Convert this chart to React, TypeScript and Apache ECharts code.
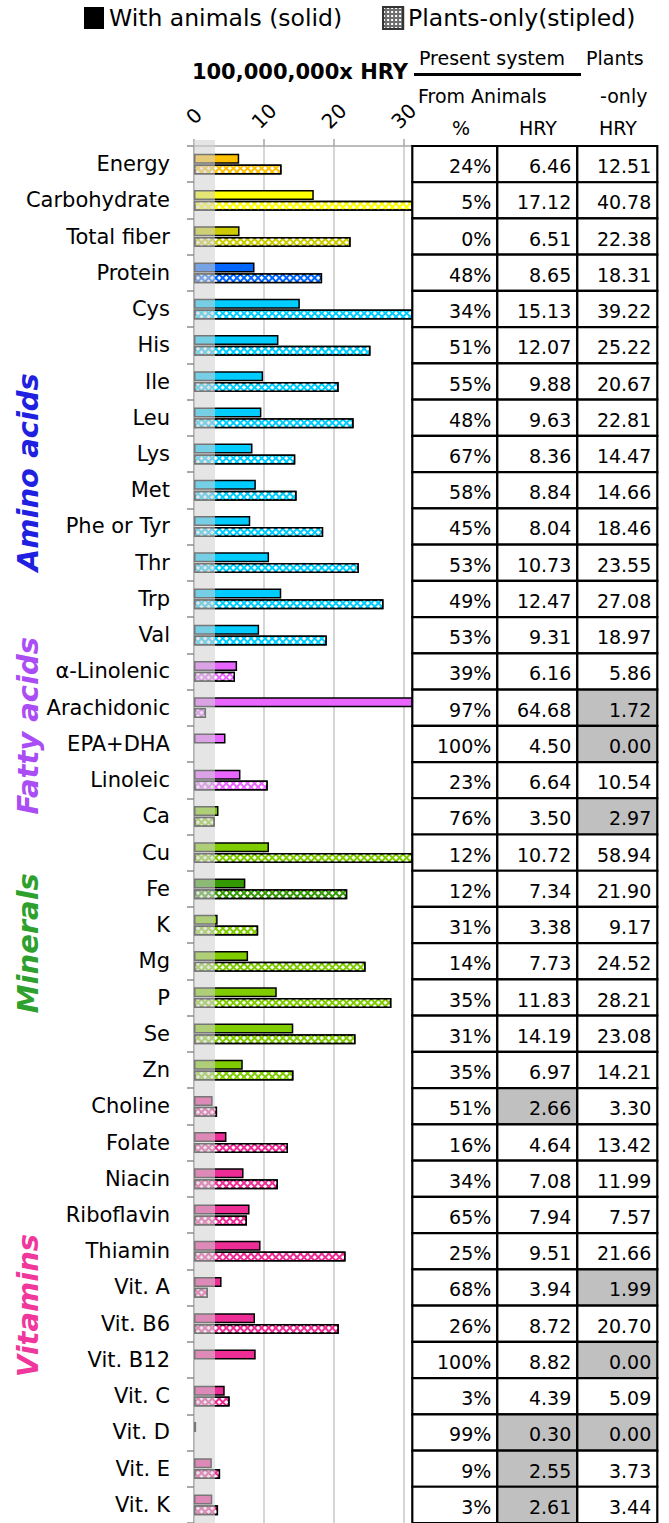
import React, { useEffect, useRef } from "react";
import * as echarts from "echarts";

const categories = [
  "Energy", "Carbohydrate", "Total fiber", "Protein",
  "Cys", "His", "Ile", "Leu", "Lys", "Met", "Phe or Tyr", "Thr", "Trp", "Val",
  "α-Linolenic", "Arachidonic", "EPA+DHA", "Linoleic",
  "Ca", "Cu", "Fe", "K", "Mg", "P", "Se", "Zn",
  "Choline", "Folate", "Niacin", "Riboflavin", "Thiamin", "Vit. A", "Vit. B6", "Vit. B12",
  "Vit. C", "Vit. D", "Vit. E", "Vit. K",
];
const fromAnimalsPct = [
  24, 5, 0, 48,
  34, 51, 55, 48, 67, 58, 45, 53, 49, 53,
  39, 97, 100, 23,
  76, 12, 12, 31, 14, 35, 31, 35,
  51, 16, 34, 65, 25, 68, 26, 100, 3, 99, 9, 3,
];
const hryPresent = [
  6.46, 17.12, 6.51, 8.65,
  15.13, 12.07, 9.88, 9.63, 8.36, 8.84, 8.04, 10.73, 12.47, 9.31,
  6.16, 64.68, 4.5, 6.64,
  3.5, 10.72, 7.34, 3.38, 7.73, 11.83, 14.19, 6.97,
  2.66, 4.64, 7.08, 7.94, 9.51, 3.94, 8.72, 8.82, 4.39, 0.3, 2.55, 2.61,
];
const hryPlantsOnly = [
  12.51, 40.78, 22.38, 18.31,
  39.22, 25.22, 20.67, 22.81, 14.47, 14.66, 18.46, 23.55, 27.08, 18.97,
  5.86, 1.72, 0.0, 10.54,
  2.97, 58.94, 21.9, 9.17, 24.52, 28.21, 23.08, 14.21,
  3.3, 13.42, 11.99, 7.57, 21.66, 1.99, 20.7, 0.0, 5.09, 0.0, 3.73, 3.44,
];
const xTicks = [0, 10, 20, 30];
const xMax = 31.2;
const lowThreshold = 3;
const groupNames = ["Amino acids", "Fatty acids", "Minerals", "Vitamins"];
const groupFirstRow = [4, 14, 18, 26];
const groupLastRow = [13, 17, 25, 37];
const legendNames = ["With animals (solid)", "Plants-only(stipled)"];

// styles
const FONT = "'DejaVu Sans', sans-serif";
const rowColors = [
  "#FFC000", "#FFFF00", "#CCCC00", "#0066FF",
  ...Array(10).fill("#00CCFF"),
  ...Array(4).fill("#E866FF"),
  "#7FCC00", "#7FCC00", "#339900", "#7FCC00", "#7FCC00", "#7FCC00", "#7FCC00", "#7FCC00",
  ...Array(12).fill("#EE2C96"),
];
const groupColors = ["#2020E0", "#AA4DF5", "#2EA02E", "#F0389C"];

export default function App() {
  const ref = useRef<HTMLDivElement>(null);
  useEffect(() => {
    const chart = echarts.init(ref.current!, null, { renderer: "svg" });
    const stippleDecal = {
      symbol: "rect",
      symbolSize: 1,
      color: "#ffffff",
      dashArrayX: [3, 1.6],
      dashArrayY: [3, 1.6],
      rotation: Math.PI / 4,
    };
    const colEdges = [0, 85, 165, 245];
    const barBorder = (v: number) => ({ borderColor: "#000", borderWidth: v > 0 ? 1.5 : 0 });

    chart.setOption({
      animation: false,
      backgroundColor: "#ffffff",
      textStyle: { fontFamily: FONT },
      legend: {
        left: 84,
        top: 6,
        padding: 0,
        icon: "rect",
        itemWidth: 20,
        itemHeight: 22,
        itemGap: 40,
        textStyle: { fontSize: 23.5, color: "#000", fontFamily: FONT },
        data: legendNames,
      },
      grid: [
        { left: 194, top: 146, width: 218.3, height: 1379.4 },
        { left: 0, top: 0, width: 1, height: 1, show: false },
      ],
      xAxis: [
        {
          type: "value",
          position: "top",
          min: 0,
          max: xMax,
          interval: 10,
          axisLine: { show: true, lineStyle: { color: "#A6A6A6", width: 1.5 } },
          axisTick: { show: true, length: 7, lineStyle: { color: "#A6A6A6", width: 1.5 } },
          splitLine: { show: true, lineStyle: { color: "#C8C8C8", width: 1.5 } },
          axisLabel: {
            rotate: -45,
            margin: 30,
            align: "center",
            verticalAlign: "middle",
            fontSize: 20,
            color: "#000",
            fontFamily: FONT,
            showMaxLabel: false,
            formatter: (v: number) => (xTicks.includes(v) ? String(v) : ""),
          },
        },
        { type: "value", gridIndex: 1, show: false },
      ],
      yAxis: [
        {
          type: "category",
          data: categories,
          inverse: true,
          axisLine: { show: true, lineStyle: { color: "#A6A6A6", width: 1.5 } },
          axisTick: { show: true, length: 7, lineStyle: { color: "#8C8C8C", width: 1.5 } },
          axisLabel: { fontSize: 21, color: "#000", margin: 24, fontFamily: FONT },
          splitLine: { show: false },
        },
        { type: "category", gridIndex: 1, show: false, data: ["x"] },
      ],
      graphic: [
        { type: "text", x: 408, y: 72, style: { text: "100,000,000x HRY", font: `bold 21px ${FONT}`, fill: "#000", align: "right", verticalAlign: "middle" } },
        { type: "text", x: 419, y: 58, style: { text: "Present system", font: `19px ${FONT}`, fill: "#000", align: "left", verticalAlign: "middle" } },
        { type: "line", shape: { x1: 414, y1: 74.5, x2: 581, y2: 74.5 }, style: { stroke: "#000", lineWidth: 3 } },
        { type: "text", x: 586, y: 58, style: { text: "Plants", font: `19px ${FONT}`, fill: "#000", align: "left", verticalAlign: "middle" } },
        { type: "text", x: 418, y: 96, style: { text: "From Animals", font: `19px ${FONT}`, fill: "#000", align: "left", verticalAlign: "middle" } },
        { type: "text", x: 600, y: 96, style: { text: "-only", font: `19px ${FONT}`, fill: "#000", align: "left", verticalAlign: "middle" } },
        { type: "text", x: 461, y: 128, style: { text: "%", font: `19px ${FONT}`, fill: "#000", align: "center", verticalAlign: "middle" } },
        { type: "text", x: 538, y: 128, style: { text: "HRY", font: `19px ${FONT}`, fill: "#000", align: "center", verticalAlign: "middle" } },
        { type: "text", x: 618, y: 128, style: { text: "HRY", font: `19px ${FONT}`, fill: "#000", align: "center", verticalAlign: "middle" } },
      ],
      series: [
        {
          name: "solid",
          type: "bar",
          barWidth: 10,
          barGap: "8%",
          z: 2,
          silent: true,
          data: hryPresent.map((v, i) => ({ value: v, itemStyle: { color: rowColors[i], ...barBorder(v) } })),
        },
        {
          name: "stipled",
          type: "bar",
          barWidth: 10,
          barGap: "8%",
          z: 2,
          silent: true,
          data: hryPlantsOnly.map((v, i) => ({
            value: v,
            itemStyle: { color: rowColors[i], decal: stippleDecal, ...barBorder(v) },
          })),
        },
        {
          name: "band",
          type: "custom",
          z: 3,
          silent: true,
          clip: false,
          encode: { x: 0, y: 1 },
          data: [[lowThreshold, 0]],
          renderItem: (params: any, api: any) => {
            const cs = params.coordSys;
            const x0 = api.coord([0, 0])[0];
            const x1 = api.coord([api.value(0), 0])[0];
            return {
              type: "rect",
              shape: { x: x0, y: cs.y - 6, width: x1 - x0, height: cs.height + 6 },
              style: { fill: "rgba(210,210,210,0.57)" },
            };
          },
        },
        {
          name: "table",
          type: "custom",
          z: 4,
          silent: true,
          clip: false,
          encode: { x: 0, y: 1 },
          data: categories.map((_, i) => [0, i]),
          renderItem: (params: any, api: any) => {
            const idx = api.value(1);
            const cs = params.coordSys;
            const yc = api.coord([0, idx])[1];
            const h = api.size([0, 1])[1];
            const left = cs.x + cs.width;
            const top = yc - h / 2;
            const texts = [
              `${fromAnimalsPct[idx]}%`,
              hryPresent[idx].toFixed(2),
              hryPlantsOnly[idx].toFixed(2),
            ];
            const grey = [false, hryPresent[idx] < lowThreshold, hryPlantsOnly[idx] < lowThreshold];
            const children: any[] = [];
            for (let c = 0; c < 3; c++) {
              const xL = left + colEdges[c];
              const xR = left + colEdges[c + 1];
              children.push({
                type: "rect",
                shape: { x: xL, y: top, width: xR - xL, height: h },
                style: { fill: grey[c] ? "#C0C0C0" : "#ffffff", stroke: "#000", lineWidth: 2.2 },
              });
              children.push({
                type: "text",
                x: xR - 6,
                y: yc + 2,
                style: {
                  text: texts[c],
                  font: `19px ${FONT}`,
                  fill: "#000",
                  align: "right",
                  verticalAlign: "middle",
                },
              });
            }
            return { type: "group", children };
          },
        },
        {
          name: "groups",
          type: "custom",
          z: 4,
          silent: true,
          clip: false,
          encode: { x: 0, y: 1 },
          data: groupNames.map((_, g) => [0, groupFirstRow[g], groupLastRow[g], g]),
          renderItem: (params: any, api: any) => {
            const g = api.value(3);
            const y1 = api.coord([0, api.value(1)])[1];
            const y2 = api.coord([0, api.value(2)])[1];
            return {
              type: "text",
              x: 28,
              y: (y1 + y2) / 2,
              rotation: Math.PI / 2,
              style: {
                text: groupNames[g],
                font: `italic bold 29px ${FONT}`,
                fill: groupColors[g],
                align: "center",
                verticalAlign: "middle",
              },
            };
          },
        },
        {
          name: legendNames[0],
          type: "bar",
          xAxisIndex: 1,
          yAxisIndex: 1,
          data: [],
          itemStyle: { color: "#000" },
        },
        {
          name: legendNames[1],
          type: "bar",
          xAxisIndex: 1,
          yAxisIndex: 1,
          data: [],
          itemStyle: {
            color: "#6E6E6E",
            borderColor: "#333",
            borderWidth: 1,
            decal: { symbol: "rect", symbolSize: 1, color: "#ffffff", dashArrayX: [1.5, 1.5], dashArrayY: [1.5, 1.5], rotation: 0 },
          },
        },
      ],
    });
    return () => chart.dispose();
  }, []);
  return (
    <div
      ref={ref}
      style={{ position: "absolute", left: 0, top: 0, width: 669, height: 1523 }}
    />
  );
}
